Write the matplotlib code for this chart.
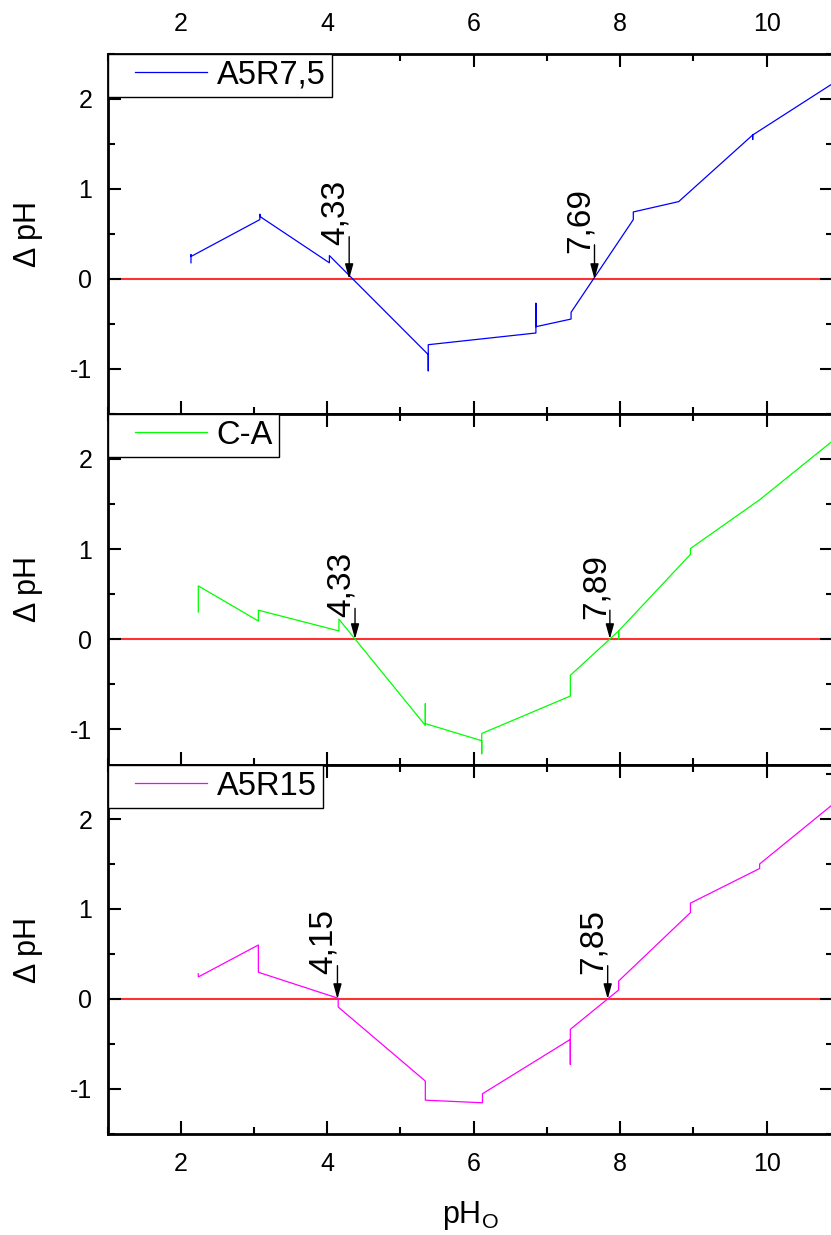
import matplotlib
matplotlib.use('Agg')
import matplotlib.pyplot as plt
from matplotlib.ticker import MultipleLocator
from matplotlib.legend_handler import HandlerLine2D

plt.rcParams['font.family'] = ['Liberation Sans', 'DejaVu Sans']
plt.rcParams['mathtext.default'] = 'regular'
plt.rcParams['axes.unicode_minus'] = False

# ---- dados ----
x_a5r75 = [2.14, 2.14, 2.14, 3.08, 3.08, 3.09, 4.03, 4.03, 5.38, 5.38, 5.38,
           6.85, 6.85, 6.85, 7.33, 7.33, 8.18, 8.18, 8.80, 9.81, 9.81, 9.81, 10.90]
y_a5r75 = [0.18, 0.27, 0.25, 0.66, 0.72, 0.69, 0.18, 0.26, -0.84, -1.02, -0.73,
           -0.60, -0.27, -0.53, -0.445, -0.37, 0.66, 0.745, 0.86, 1.60, 1.55, 1.60, 2.17]

x_ca = [2.24, 2.24, 3.06, 3.06, 4.16, 4.16, 5.34, 5.34, 5.34, 6.11, 6.11, 6.11,
        7.32, 7.32, 7.98, 7.98, 7.98, 8.96, 8.96, 9.91, 10.90]
y_ca = [0.30, 0.59, 0.20, 0.32, 0.09, 0.22, -0.96, -0.72, -0.94, -1.13, -1.275, -1.05,
        -0.634, -0.404, 0.09, 0.0, 0.09, 0.94, 1.005, 1.55, 2.20]

x_a5r15 = [2.24, 2.24, 3.06, 3.06, 4.15, 4.15, 5.34, 5.34, 6.12, 6.12,
           7.32, 7.32, 7.32, 7.98, 7.98, 8.96, 8.96, 9.905, 9.905, 10.90]
y_a5r15 = [0.28, 0.245, 0.60, 0.297, 0.008, -0.089, -0.912, -1.124, -1.153, -1.053,
           -0.449, -0.727, -0.337, 0.10, 0.20, 0.96, 1.065, 1.45, 1.50, 2.16]

series = [
    ('A5R7,5', x_a5r75, y_a5r75, '#0000ff'),
    ('C-A', x_ca, y_ca, '#00ff00'),
    ('A5R15', x_a5r15, y_a5r15, '#ff00ff'),
]

# pontos de carga zero (posição da seta, texto, início da seta)
pcz_x = [[4.30, 7.65], [4.38, 7.86], [4.14, 7.83]]
pcz_txt = [['4,33', '7,69'], ['4,33', '7,89'], ['4,15', '7,85']]
pcz_tail = [[0.47, 0.38], [0.34, 0.32], [0.37, 0.37]]

ylims = [(-1.5, 2.5), (-1.4, 2.5), (-1.5, 2.6)]

fig = plt.figure(figsize=(8.31, 12.35), dpi=100)
gs = fig.add_gridspec(3, 1, left=107.5/831, right=832.5/831,
                      top=1-54/1235, bottom=1-1134/1235,
                      height_ratios=[4.0, 3.9, 4.1], hspace=0)

for i, (nome, xs, ys, cor) in enumerate(series):
    ax = fig.add_subplot(gs[i])
    ax.axhline(0, color='#ff3030', lw=1.5, zorder=1)
    ax.plot(xs, ys, color=cor, lw=0.9, label=nome, zorder=2)

    for xa, txt, yt in zip(pcz_x[i], pcz_txt[i], pcz_tail[i]):
        ax.annotate('', xy=(xa, 0), xytext=(xa, yt),
                    arrowprops=dict(arrowstyle='-|>,head_length=0.9,head_width=0.25',
                                    color='black', lw=1, shrinkA=0, shrinkB=0))
        ax.annotate(txt, xy=(xa, yt), xytext=(1, -6), textcoords='offset points',
                    rotation=90, ha='right', va='bottom', fontsize=24)

    ax.set_xlim(1, 10.9)
    ax.set_ylim(*ylims[i])
    ax.xaxis.set_major_locator(MultipleLocator(2))
    ax.xaxis.set_minor_locator(MultipleLocator(1))
    ax.yaxis.set_major_locator(MultipleLocator(1))
    ax.yaxis.set_minor_locator(MultipleLocator(0.5))
    ax.tick_params(which='both', direction='in', top=True, right=True,
                   labeltop=(i == 0), labelbottom=(i == 2), width=1.5)
    ax.tick_params(which='major', length=9.5, labelsize=18)
    ax.tick_params(which='minor', length=5)
    ax.tick_params(axis='x', pad=13)
    ax.tick_params(axis='y', pad=11)
    for sp in ax.spines.values():
        sp.set_linewidth(2)

    ax.set_ylabel('Δ pH', fontsize=22)
    ax.yaxis.set_label_coords(-0.089, 0.5)

    leg = ax.legend(loc='upper left', bbox_to_anchor=(0, 1), borderaxespad=0,
                    fontsize=23.5, borderpad=0.18, handlelength=3.53,
                    handletextpad=-0.36, fancybox=False, framealpha=1,
                    edgecolor='black',
                    handler_map={plt.Line2D: HandlerLine2D(numpoints=2, marker_pad=0.66)})
    leg.get_frame().set_linewidth(1)

    if i == 2:
        ax.set_xlabel('pH$_O$', fontsize=22)
        ax.xaxis.set_label_coords(0.5, -0.175)
        ax.xaxis.label.set_va('top')

fig.savefig('out.png', dpi=100)
